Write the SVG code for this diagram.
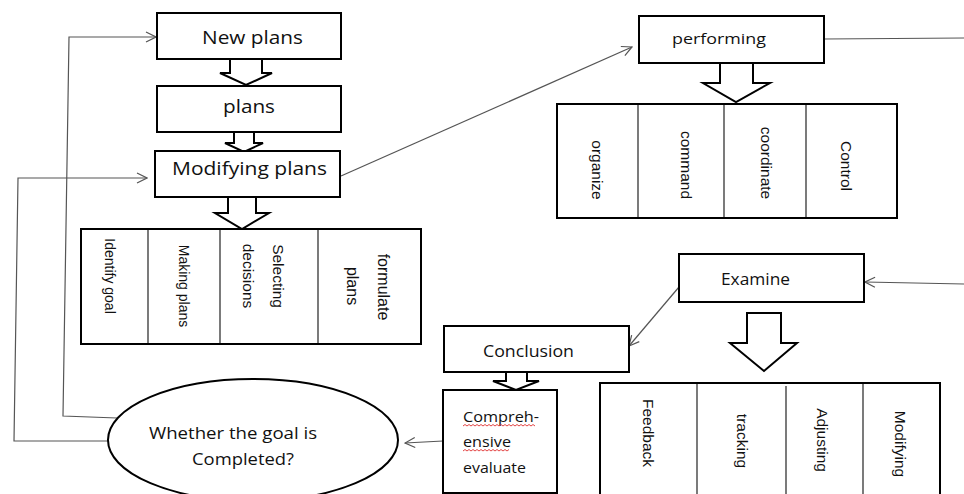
<svg xmlns="http://www.w3.org/2000/svg" width="964" height="494" viewBox="0 0 964 494">
<style>
.box{fill:#fff;stroke:#000;stroke-width:2}
.div{stroke:#333;stroke-width:1.3}
.harrow{fill:#fff;stroke:#000;stroke-width:2;stroke-linejoin:miter}
.con{fill:none;stroke:#555;stroke-width:1.2}
.t{font-family:"Open Sans","Noto Sans",sans-serif;fill:#111}
.r{font-family:"Liberation Sans",Arial,sans-serif;fill:#111;text-anchor:middle;dominant-baseline:central}
.wave{fill:none;stroke:#e03030;stroke-width:0.9}
</style>
<defs>
<marker id="open" viewBox="-11 -6 12 12" refX="0" refY="0" markerWidth="12" markerHeight="12" markerUnits="userSpaceOnUse" orient="auto">
<path d="M-10,-5 L0,0 L-10,5" fill="none" stroke="#555" stroke-width="1.2"/>
</marker>
</defs>
<rect width="964" height="494" fill="#fff"/>

<g id="connectors">
<polyline class="con" points="117,418 63,416 69,37 156,37" marker-end="url(#open)"/>
<polyline class="con" points="109,441 14,441 18,178 147,178" marker-end="url(#open)"/>
<line class="con" x1="341" y1="176" x2="632" y2="47" marker-end="url(#open)"/>
<line class="con" x1="824" y1="39" x2="964" y2="38"/>
<line class="con" x1="964" y1="284" x2="865" y2="282" marker-end="url(#open)"/>
<line class="con" x1="679" y1="287" x2="629" y2="346" marker-end="url(#open)"/>
<line class="con" x1="443" y1="441" x2="405" y2="443" marker-end="url(#open)"/>
</g>

<g id="hollow-arrows">
<polygon class="harrow" points="230,59 262,59 262,73 272,73 246,85 220,73 230,73"/>
<polygon class="harrow" points="234,132 254,132 254,143 263,143 244,152 225,143 234,143"/>
<polygon class="harrow" points="228,197 256,197 256,213 269,213 242,229 215,213 228,213"/>
<polygon class="harrow" points="720,63 753,63 753,83 770,83 736,102 703,83 720,83"/>
<polygon class="harrow" points="747,313 781,313 781,343 797,343 764,371 730,343 747,343"/>
<polygon class="harrow" points="506,372 527,372 527,381 539,381 516,390 493,381 506,381"/>
</g>

<g id="new-plans">
<rect class="box" x="157" y="13" width="184" height="46"/>
<text class="t" x="202" y="44" font-size="18" textLength="101" lengthAdjust="spacingAndGlyphs">New plans</text>
</g>

<g id="plans">
<rect class="box" x="157" y="86" width="184" height="46"/>
<text class="t" x="223" y="113" font-size="18" textLength="52" lengthAdjust="spacingAndGlyphs">plans</text>
</g>

<g id="modifying-plans">
<rect class="box" x="155" y="151" width="185" height="46"/>
<text class="t" x="172" y="175" font-size="18" textLength="155" lengthAdjust="spacingAndGlyphs">Modifying plans</text>
</g>

<g id="plan-steps">
<rect class="box" x="81" y="229" width="340" height="115"/>
<line class="div" x1="148" y1="230" x2="148" y2="343"/>
<line class="div" x1="220" y1="230" x2="220" y2="343"/>
<line class="div" x1="318" y1="230" x2="318" y2="343"/>
<text class="r" font-size="14" transform="translate(110,276) rotate(90)">Identify goal</text>
<text class="r" font-size="14" transform="translate(184,286) rotate(90)">Making plans</text>
<text class="r" font-size="15.5" transform="translate(278,276) rotate(90)">Selecting</text>
<text class="r" font-size="15.5" transform="translate(248,276) rotate(90)">decisions</text>
<text class="r" font-size="16" transform="translate(383,287) rotate(90)">formulate</text>
<text class="r" font-size="16" transform="translate(352,286) rotate(90)">plans</text>
</g>

<g id="performing">
<rect class="box" x="639" y="16" width="185" height="47"/>
<text class="t" x="672" y="44" font-size="15" textLength="94" lengthAdjust="spacingAndGlyphs">performing</text>
</g>

<g id="performing-steps">
<rect class="box" x="557" y="104" width="340" height="114"/>
<line class="div" x1="638" y1="105" x2="638" y2="217"/>
<line class="div" x1="724" y1="105" x2="724" y2="217"/>
<line class="div" x1="806" y1="105" x2="806" y2="217"/>
<text class="r" font-size="15.5" transform="translate(597,170) rotate(90)">organize</text>
<text class="r" font-size="15.5" transform="translate(686,165) rotate(90)">command</text>
<text class="r" font-size="15.5" transform="translate(766,163) rotate(90)">coordinate</text>
<text class="r" font-size="15.5" transform="translate(846,166) rotate(90)">Control</text>
</g>

<g id="examine">
<rect class="box" x="679" y="254" width="185" height="48"/>
<text class="t" x="721" y="285" font-size="16" textLength="69" lengthAdjust="spacingAndGlyphs">Examine</text>
</g>

<g id="examine-steps">
<rect class="box" x="600" y="383" width="340" height="120"/>
<line class="div" x1="697" y1="384" x2="697" y2="494"/>
<line class="div" x1="786" y1="386" x2="786" y2="494"/>
<line class="div" x1="863" y1="384" x2="863" y2="494"/>
<text class="r" font-size="15.5" transform="translate(648,433) rotate(90)">Feedback</text>
<text class="r" font-size="15.5" transform="translate(742,441) rotate(90)">tracking</text>
<text class="r" font-size="15.5" transform="translate(822,440) rotate(90)">Adjusting</text>
<text class="r" font-size="15.5" transform="translate(900,444) rotate(90)">Modifying</text>
</g>

<g id="conclusion">
<rect class="box" x="444" y="326" width="185" height="46"/>
<text class="t" x="483" y="357" font-size="15.5" textLength="91" lengthAdjust="spacingAndGlyphs">Conclusion</text>
</g>

<g id="comprehensive-evaluate">
<rect class="box" x="443" y="390" width="114" height="103"/>
<text class="t" x="463" y="422" font-size="14.5" textLength="76" lengthAdjust="spacingAndGlyphs">Compreh-</text>
<text class="t" x="463" y="447" font-size="14.5" textLength="48" lengthAdjust="spacingAndGlyphs">ensive</text>
<text class="t" x="463" y="473" font-size="14.5" textLength="63" lengthAdjust="spacingAndGlyphs">evaluate</text>
<path class="wave" d="M463,426 l2,-1.5 l2,1.5 l2,-1.5 l2,1.5 l2,-1.5 l2,1.5 l2,-1.5 l2,1.5 l2,-1.5 l2,1.5 l2,-1.5 l2,1.5 l2,-1.5 l2,1.5 l2,-1.5 l2,1.5 l2,-1.5 l2,1.5 l2,-1.5 l2,1.5 l2,-1.5 l2,1.5 l2,-1.5 l2,1.5 l2,-1.5 l2,1.5 l2,-1.5 l2,1.5 l2,-1.5 l2,1.5 l2,-1.5 l2,1.5 l2,-1.5 l2,1.5 l2,-1.5 l2,1.5"/>
<path class="wave" d="M463,451 l2,-1.5 l2,1.5 l2,-1.5 l2,1.5 l2,-1.5 l2,1.5 l2,-1.5 l2,1.5 l2,-1.5 l2,1.5 l2,-1.5 l2,1.5 l2,-1.5 l2,1.5 l2,-1.5 l2,1.5 l2,-1.5 l2,1.5 l2,-1.5 l2,1.5 l2,-1.5 l2,1.5 l2,-1.5"/>
</g>

<g id="goal-check">
<ellipse cx="253" cy="440" rx="145" ry="61" fill="#fff" stroke="#000" stroke-width="2"/>
<text class="t" x="149" y="439" font-size="16" textLength="168" lengthAdjust="spacingAndGlyphs">Whether the goal is</text>
<text class="t" x="192" y="465" font-size="16" textLength="102" lengthAdjust="spacingAndGlyphs">Completed?</text>
</g>
</svg>
